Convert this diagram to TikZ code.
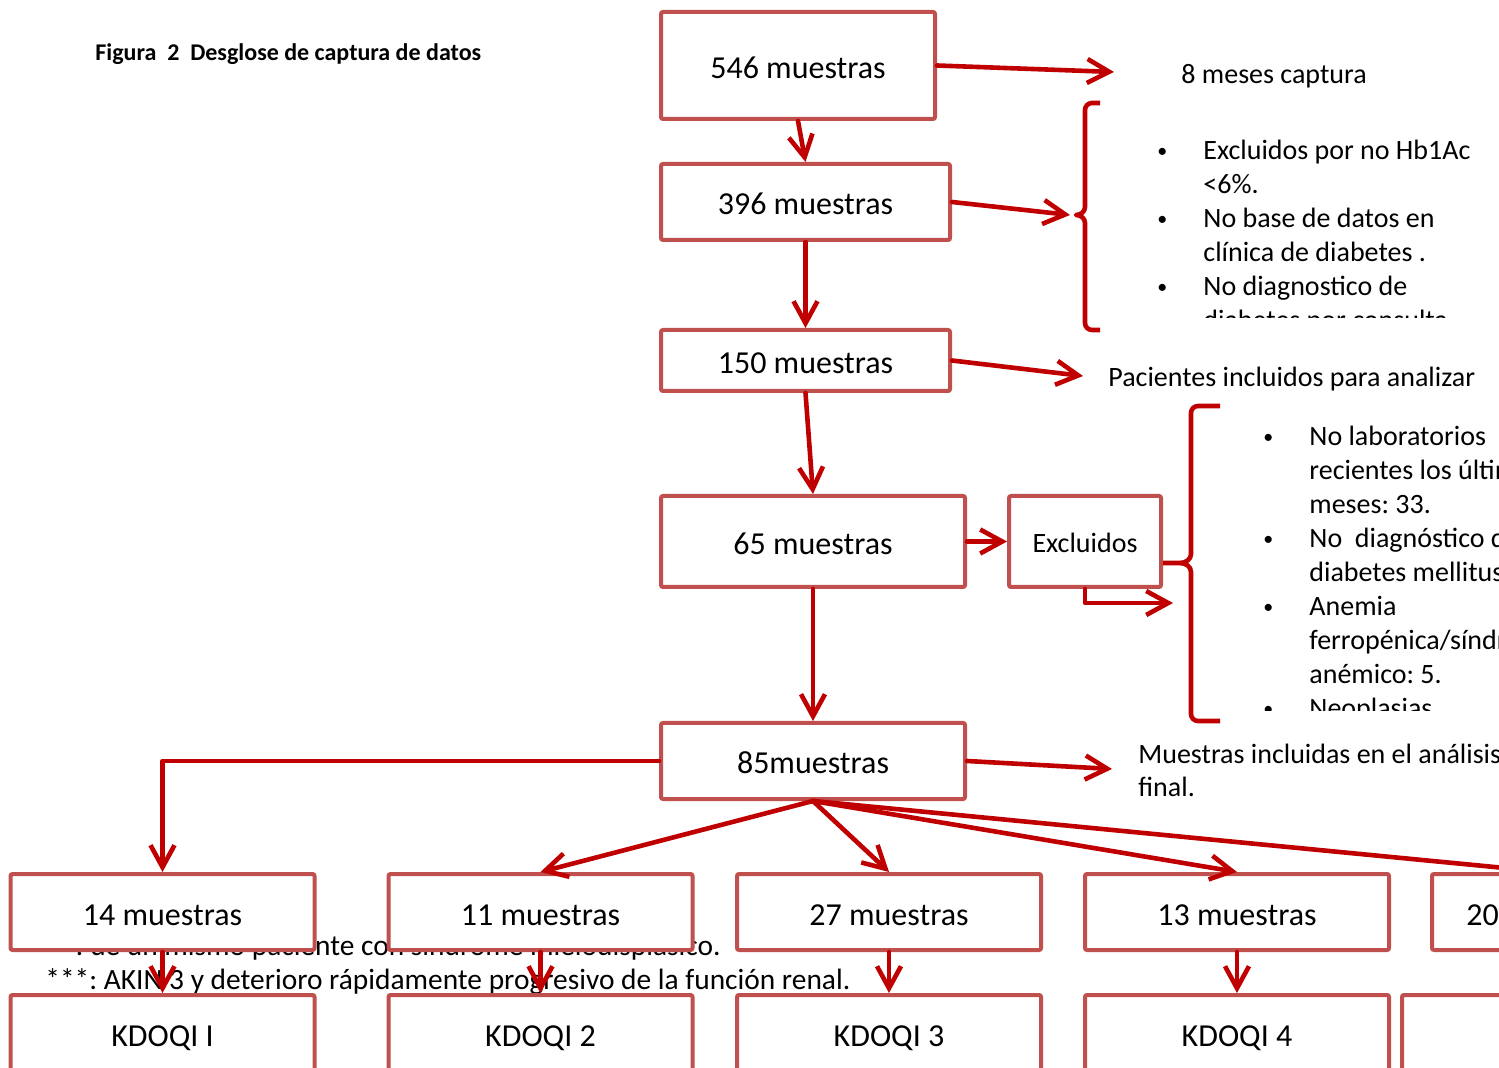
\documentclass[tikz,border=0pt]{standalone}
\usepackage{fontspec}
\setmainfont{Carlito}
\usetikzlibrary{arrows.meta}
\definecolor{boxred}{HTML}{C0504D}
\definecolor{arrred}{HTML}{C00000}
\frenchspacing
\newcommand{\bul}{\makebox[23pt][l]{\raisebox{0.15ex}{\fontsize{10}{10}\selectfont\textbullet}}}
\begin{document}
\begin{tikzpicture}[x=0.5pt,y=-0.5pt,
  box/.style={draw=boxred, line width=2pt, fill=white, rounded corners=1pt, inner sep=0pt, font=\fontsize{16}{19}\selectfont, text height=13pt, text depth=0pt},
  rowbox/.style={box, minimum width=152pt, minimum height=38pt},
  conn/.style={draw=arrred, line width=2.3pt, -{Straight Barb[length=11pt,width=12pt]}, line cap=round, line join=round},
  bracket/.style={draw=arrred, line width=2.3pt, line join=round},
  lbl/.style={inner sep=0pt, font=\fontsize{14}{17}\selectfont, anchor=base west},
]
\clip (0,0) rectangle (1499,1068);
\fill[white] (0,0) rectangle (1499,1068);

% title
\node[anchor=base west, inner sep=0pt, font=\bfseries\fontsize{12}{14}\selectfont] (title) at (95,61) {Figura\ \ 2\ \ Desglose de captura de datos};

% footnote text (partly hidden behind boxes)
\node[lbl, anchor=base east, font=\fontsize{14.7}{17}\selectfont] (fn2) at (721,955) {**: de un mismo paciente con síndrome mielodisplásico.};
\node[lbl, font=\fontsize{14.7}{17}\selectfont] (fn3) at (45,989) {***: AKIN 3 y deterioro rápidamente progresivo de la función renal.};

% side texts
\node[lbl] (t8) at (1181,84) {8 meses captura};
\node[lbl] (tpac) at (1108,387) {Pacientes incluidos para analizar};
\node[lbl] (tmue) at (1138,763) {\begin{minipage}[t]{300pt}\raggedright Muestras incluidas en el análisis\\final.\end{minipage}};

\begin{scope}
\clip (1100,95) rectangle (1499,318);
\node[lbl] (list1) at (1157,160) {\begin{minipage}[t]{300pt}\raggedright
\bul Excluidos por no Hb1Ac\\
\hspace*{23pt}<6\%.\\
\bul No base de datos en\\
\hspace*{23pt}clínica de diabetes .\\
\bul No diagnostico de\\
\hspace*{23pt}diabetes por consulta
\end{minipage}};
\end{scope}

\begin{scope}
\clip (1200,400) rectangle (1499,711);
\node[lbl] (list2) at (1263,446) {\begin{minipage}[t]{300pt}\raggedright
\bul No laboratorios\\
\hspace*{23pt}recientes los últimos\\
\hspace*{23pt}meses: 33.\\
\bul No\ \ diagnóstico de\\
\hspace*{23pt}diabetes mellitus\\
\bul Anemia\\
\hspace*{23pt}ferropénica/síndrome\\
\hspace*{23pt}anémico: 5.\\
\bul Neoplasias
\end{minipage}};
\end{scope}

% boxes
\node[box, minimum width=137pt, minimum height=53.5pt] (b546) at (798,65.5) {546 muestras};
\node[box, minimum width=144.5pt, minimum height=38pt] (b396) at (805.5,202) {396 muestras};
\node[box, minimum width=144.5pt, minimum height=30.5pt] (b150) at (805.5,360.5) {150 muestras};
\node[box, minimum width=152pt, minimum height=45.5pt] (b65) at (813,541.5) {65 muestras};
\node[box, minimum width=76pt, minimum height=45.5pt, font=\fontsize{14}{17}\selectfont, text height=11pt] (excl) at (1085,541.5) {Excluidos};
\node[box, minimum width=152pt, minimum height=38pt] (b85) at (813,761) {85muestras};

\node[rowbox] (b14) at (162.5,912) {14 muestras};
\node[rowbox] (b11) at (540.5,912) {11 muestras};
\node[rowbox] (b27) at (889,912) {27 muestras};
\node[rowbox] (b13) at (1237,912) {13 muestras};
\node[box, minimum width=114pt, minimum height=38pt] (b20) at (1546,912) {20 muestras};

\node[rowbox] (k1) at (162.5,1033) {KDOQI I};
\node[rowbox] (k2) at (540.5,1033) {KDOQI 2};
\node[rowbox] (k3) at (889,1033) {KDOQI 3};
\node[rowbox] (k4) at (1237,1033) {KDOQI 4};
\node[rowbox] (k5) at (1554,1033) {};

% brackets
\draw[bracket] (1100,103) -- (1092,103) to[out=180,in=90] (1085,110) -- (1085,207) to[out=-90,in=0] (1076,215) to[out=0,in=90] (1085,223) -- (1085,323) to[out=-90,in=180] (1092,330) -- (1100,330);
\draw[bracket] (1220,406) -- (1198,406) to[out=180,in=90] (1191,413) -- (1191,554) to[out=-90,in=0] (1180,563) -- (1163,563);
\draw[bracket] (1180,563) to[out=0,in=90] (1191,572) -- (1191,714) to[out=-90,in=180] (1198,721) -- (1220,721);

% free ends
\coordinate (e8) at (1114,72);
\coordinate (e396) at (1070,215);
\coordinate (e150) at (1083,376);
\coordinate (eex) at (1173,603);
\coordinate (e85) at (1112,769);

% connectors
\draw[conn] (b546.east) -- (e8);
\draw[conn] (b546.south) -- (b396.north);
\draw[conn] (b396.east) -- (e396);
\draw[conn] (b396.south) -- (b150.north);
\draw[conn] (b150.east) -- (e150);
\draw[conn] (b150.south) -- (b65.north);
\draw[conn] (b65.east) -- (excl.west);
\draw[conn] (excl.south) |- (eex);
\draw[conn] (b65.south) -- (b85.north);
\draw[conn] (b85.east) -- (e85);
\draw[conn] (b85.west) -| (b14.north);
\draw[conn] (b85.south) -- (b11.north);
\draw[conn] (b85.south) -- (b27.north);
\draw[conn] (b85.south) -- (b13.north);
\draw[conn] (b85.south) -- (b20.north);
\draw[conn] (b14.south) -- (k1.north);
\draw[conn] (b11.south) -- (k2.north);
\draw[conn] (b27.south) -- (k3.north);
\draw[conn] (b13.south) -- (k4.north);
\end{tikzpicture}
\end{document}
